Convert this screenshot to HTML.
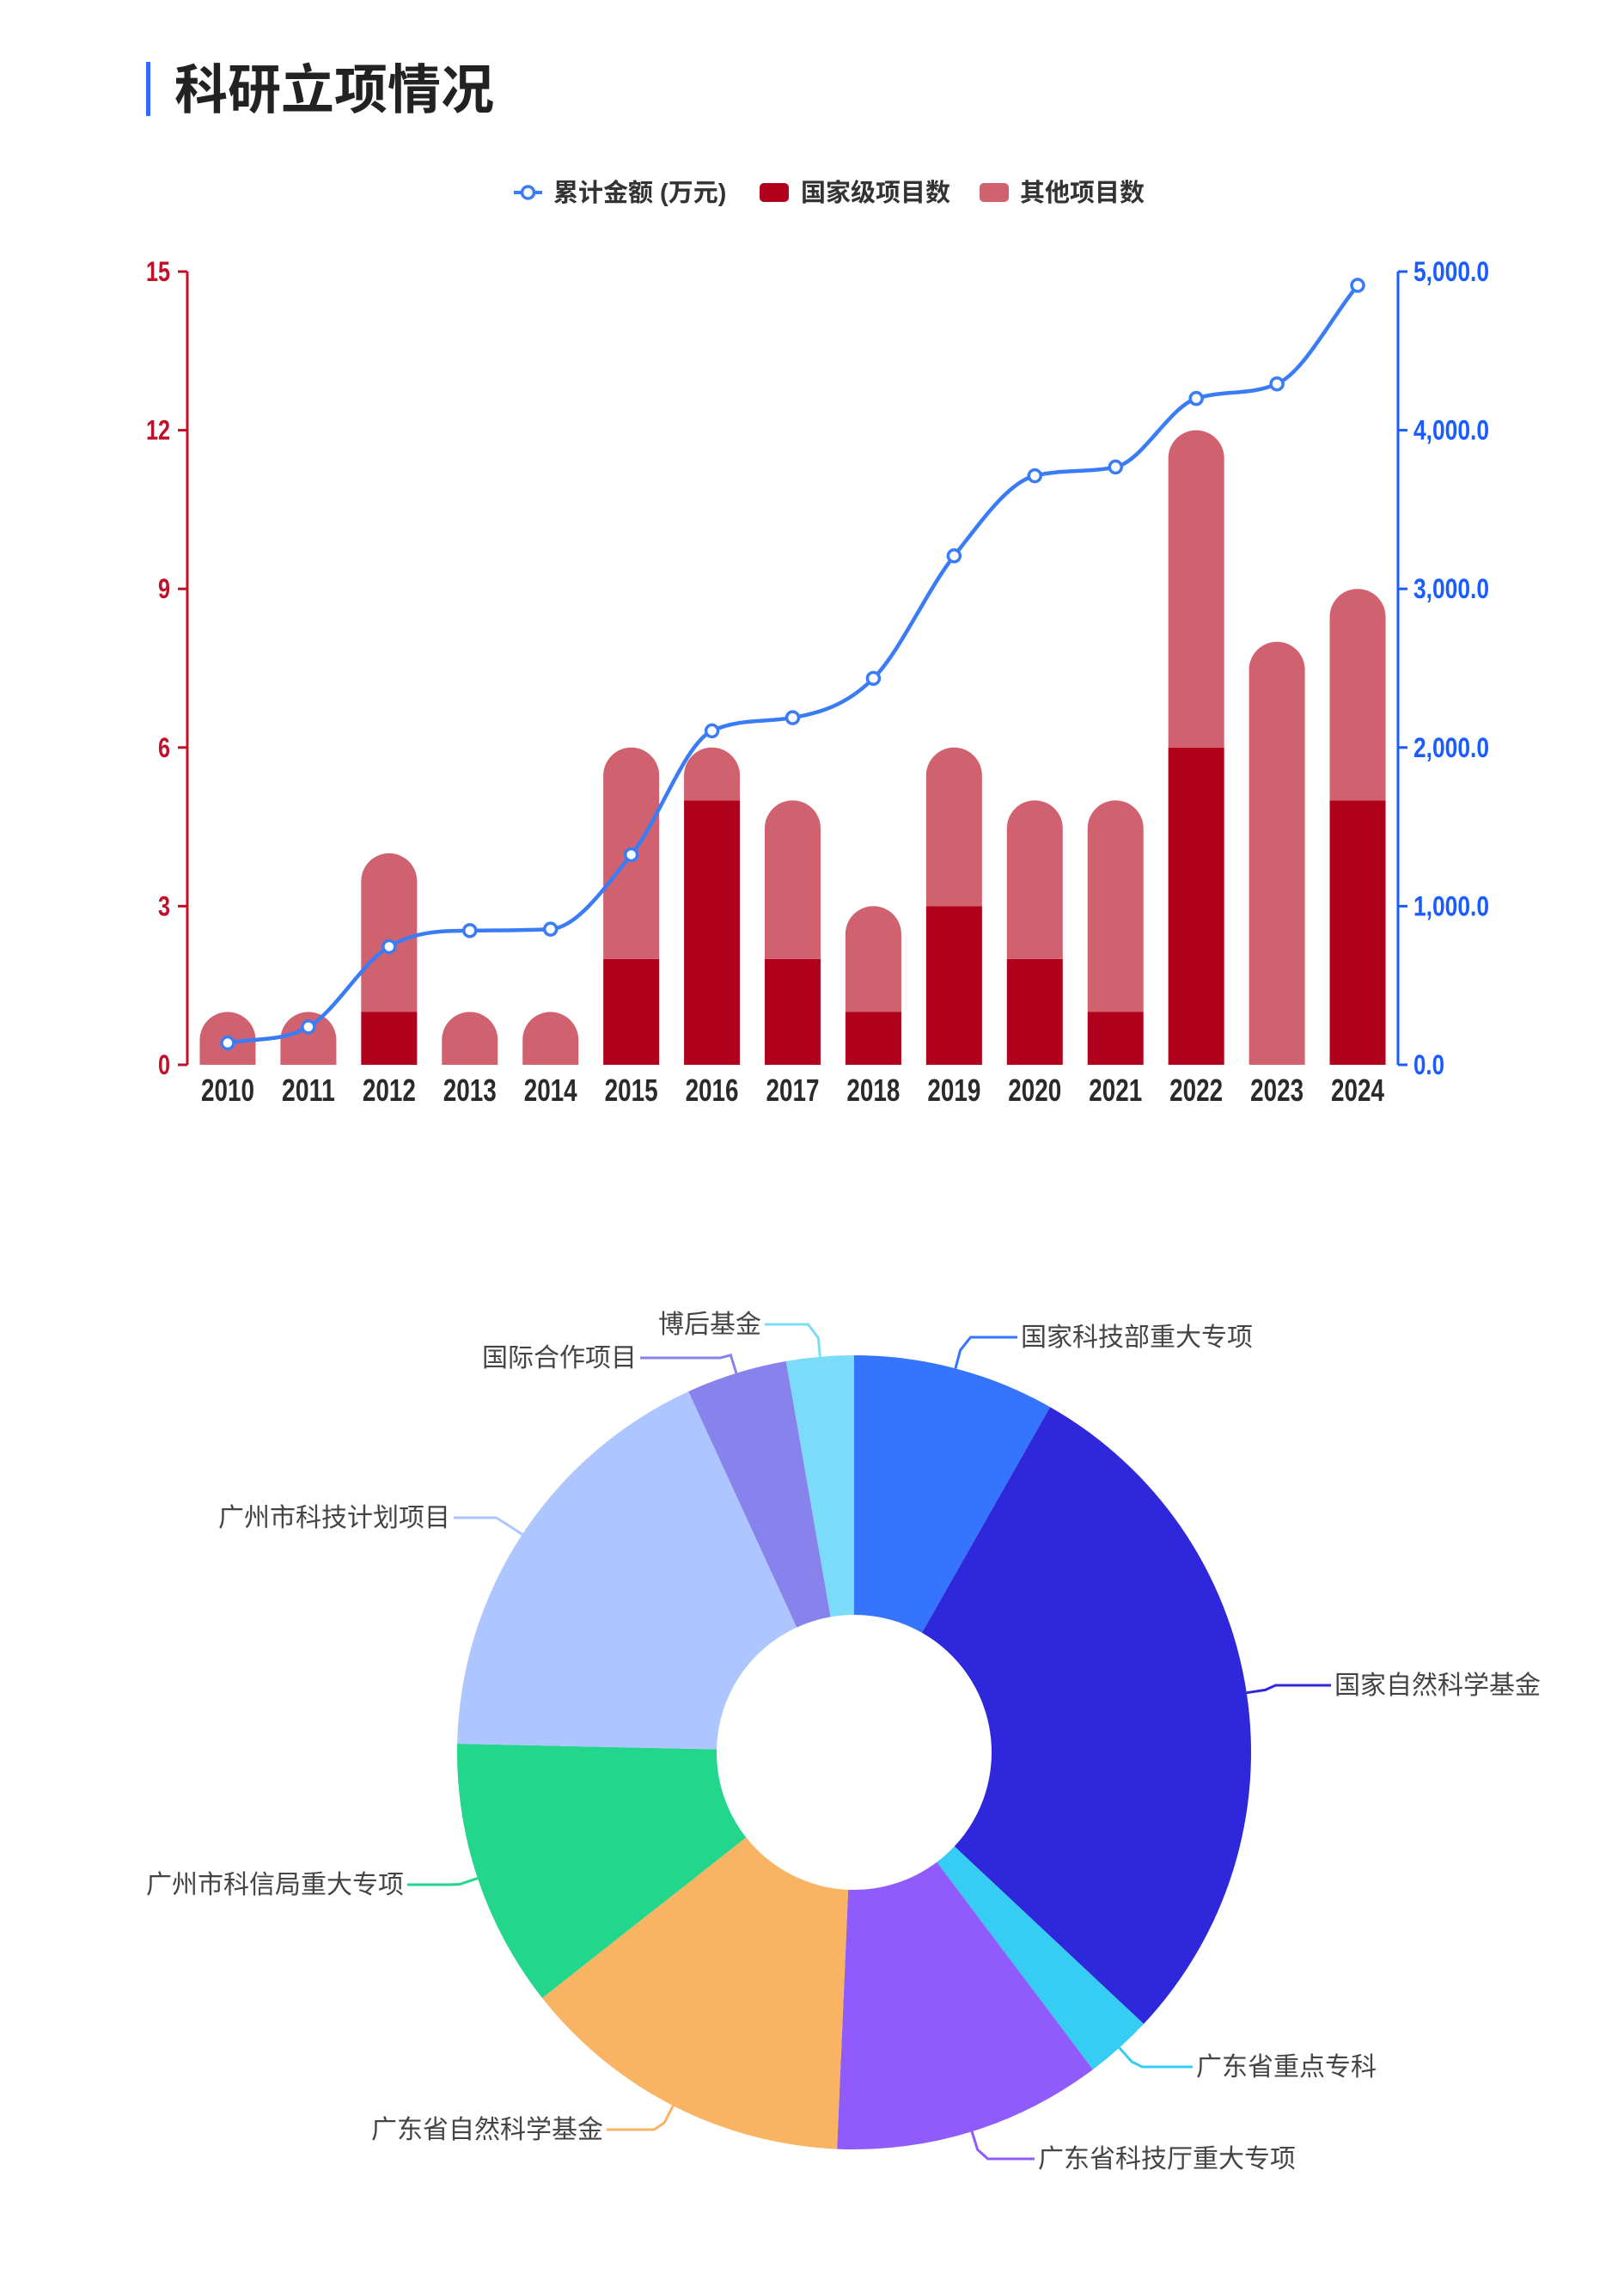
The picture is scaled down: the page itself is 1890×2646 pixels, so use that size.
<!DOCTYPE html>
<html><head><meta charset="utf-8">
<style>
html,body{margin:0;padding:0;background:#fff;width:1890px;height:2646px;overflow:hidden;}
svg{display:block;}
.cn{font-family:"Liberation Sans","Noto Sans CJK SC",sans-serif;}
</style></head>
<body>
<svg id="svg" width="1890" height="2646" viewBox="0 0 1890 2646">
  <rect x="170" y="72" width="5" height="63" fill="#2f6bff"/>
  <text x="203" y="126" class="cn" font-size="62" font-weight="bold" fill="#222">科研立项情况</text>
  <g id="legend">
    <g>
      <line x1="598" y1="224" x2="631" y2="224" stroke="#3a7cf6" stroke-width="4"/>
      <circle cx="614.5" cy="224" r="7" fill="#fff" stroke="#3a7cf6" stroke-width="3.5"/>
      <text x="644" y="234" class="cn" font-size="29" font-weight="bold" fill="#333">累计金额 (万元)</text>
    </g>
    <g>
      <rect x="884" y="213" width="34" height="22" rx="5" fill="#b0001c"/>
      <text x="932" y="234" class="cn" font-size="29" font-weight="bold" fill="#333">国家级项目数</text>
    </g>
    <g>
      <rect x="1140" y="213" width="34" height="22" rx="5" fill="#d06270"/>
      <text x="1187" y="234" class="cn" font-size="29" font-weight="bold" fill="#333">其他项目数</text>
    </g>
  </g>
  <g id="chart"></g>
  <g id="pie"></g>
</svg>
<script>
const NS='http://www.w3.org/2000/svg';
const years=['2010','2011','2012','2013','2014','2015','2016','2017','2018','2019','2020','2021','2022','2023','2024'];
const nationalCounts=[0,0,1,0,0,2,5,2,1,3,2,1,6,0,5];
const otherCounts=[1,1,3,1,1,4,1,3,2,3,3,4,6,8,4];
const cumulativeAmount=[138,239,745,846,855,1324,2105,2188,2436,3208,3713,3768,4200,4292,4913];
const leftTicks=[0,3,6,9,12,15];
const rightTicks=[0,1000,2000,3000,4000,5000];
const rightTickLabels=['0.0','1,000.0','2,000.0','3,000.0','4,000.0','5,000.0'];

const pieLabels=['国家科技部重大专项','国家自然科学基金','广东省重点专科','广东省科技厅重大专项','广东省自然科学基金','广州市科信局重大专项','广州市科技计划项目','国际合作项目','博后基金'];
const pieValues=[3,10.5,1,4,5,4,6.5,1.5,1];

function el(tag,attrs,parent){const e=document.createElementNS(NS,tag);for(const k in attrs)e.setAttribute(k,attrs[k]);parent.appendChild(e);return e;}

const chart=document.getElementById('chart');
const X0=218,X1=1627,Y0=1239,Y1=316;
const band=(X1-X0)/years.length;
const xC=i=>X0+(i+0.5)*band;
const yL=v=>Y0-(v/15)*(Y0-Y1);
const yR=v=>Y0-(v/5000)*(Y0-Y1);
const BW=65;
const numFont='"Liberation Sans Narrow","Liberation Sans",sans-serif';

// axes
const la=el('line',{x1:X0,y1:Y1,x2:X0,y2:Y0,stroke:'#c0102a','stroke-width':3},chart);


const ra=el('line',{x1:X1,y1:Y1,x2:X1,y2:Y0,stroke:'#1a5cff','stroke-width':3},chart);


leftTicks.forEach(v=>{
  const y=yL(v);
  el('line',{x1:X0-11,y1:y,x2:X0,y2:y,stroke:'#c0102a','stroke-width':3},chart);
  const s=String(v);
  const t=el('text',{x:198,y:y+11,'text-anchor':'end','font-size':32,'font-weight':'bold',fill:'#c0102a','font-family':numFont,textLength:s.length*14,lengthAdjust:'spacingAndGlyphs'},chart);
  t.textContent=s;
  
  
});
rightTicks.forEach((v,i)=>{
  const y=yR(v);
  el('line',{x1:X1,y1:y,x2:X1+11,y2:y,stroke:'#1a5cff','stroke-width':3},chart);
  const s=rightTickLabels[i];
  const w=s.length===3?36:88;
  const t=el('text',{x:1645,y:y+11,'font-size':32,'font-weight':'bold',fill:'#1a5cff','font-family':numFont,textLength:w,lengthAdjust:'spacingAndGlyphs'},chart);
  t.textContent=s;
  
  
});

function topRounded(x,y,w,h,r){
  r=Math.min(r,h);
  return `M${x},${y+h}L${x},${y+r}A${r},${r} 0 0 1 ${x+r},${y}`+`L${x+w-r},${y}A${r},${r} 0 0 1 ${x+w},${y+r}L${x+w},${y+h}Z`;
}
years.forEach((yr,i)=>{
  const x=xC(i)-BW/2;
  const n=nationalCounts[i],o=otherCounts[i];
  if(n>0){
    const yt=yL(n),h=Y0-yt;
    let b;
    if(o>0) b=el('rect',{x:x,y:yt,width:BW,height:h,fill:'#b0001c'},chart);
    else b=el('path',{d:topRounded(x,yt,BW,h,BW/2),fill:'#b0001c'},chart);
    
    
  }
  if(o>0){
    const yb=yL(n),yt=yL(n+o);
    const b=el('path',{d:topRounded(x,yt,BW,yb-yt,BW/2),fill:'#d06270'},chart);
    
    
  }
  const t=el('text',{x:xC(i),y:1281,'text-anchor':'middle','font-size':36,'font-weight':'bold',fill:'#2a2a2a','font-family':numFont,textLength:62,lengthAdjust:'spacingAndGlyphs'},chart);
  t.textContent=yr;
  
  
});

// smooth line (monotone cubic)
const pts=cumulativeAmount.map((v,i)=>[xC(i),yR(v)]);
function monotone(p){
  const n=p.length,d=[],m=[];
  for(let i=0;i<n-1;i++)d.push((p[i+1][1]-p[i][1])/(p[i+1][0]-p[i][0]));
  m[0]=d[0];m[n-1]=d[n-2];
  for(let i=1;i<n-1;i++){m[i]=(d[i-1]*d[i]<=0)?0:(d[i-1]+d[i])/2;}
  for(let i=0;i<n-1;i++){if(d[i]===0){m[i]=m[i+1]=0;continue;}const a=m[i]/d[i],b=m[i+1]/d[i],s=a*a+b*b;if(s>9){const t=3/Math.sqrt(s);m[i]=t*a*d[i];m[i+1]=t*b*d[i];}}
  let s=`M${p[0][0]},${p[0][1]}`;
  for(let i=0;i<n-1;i++){const h=(p[i+1][0]-p[i][0])/3;s+=`C${p[i][0]+h},${p[i][1]+m[i]*h} ${p[i+1][0]-h},${p[i+1][1]-m[i+1]*h} ${p[i+1][0]},${p[i+1][1]}`;}
  return s;
}
const ln=el('path',{d:monotone(pts),fill:'none',stroke:'#3a7cf6','stroke-width':4.5},chart);


pts.forEach((p,i)=>{
  const c=el('circle',{cx:p[0],cy:p[1],r:7,fill:'#fff',stroke:'#3a7cf6','stroke-width':3.5},chart);
  
  
});

// donut
const pie=document.getElementById('pie');
const colors=['#3574fc','#2f27dc','#35cdf4','#905bfc','#f8b363','#22d68b','#adc6ff','#8782ec','#7adcf9'];
const CX=994,CY=2039,RO=462,RI=160;
const total=pieValues.reduce((a,b)=>a+b,0);
const pt=(r,a)=>[CX+r*Math.sin(a),CY-r*Math.cos(a)];
// label geometry: [elbow-x, elbow-y, text-anchor-x, text-y, anchor]
const labelPos=[
 [1134,1556,1188,'start'],[1550,1961,1553,'start'],[1360,2405,1392,'start'],[1152,2512,1208,'start'],
 [760,2478,702,'end'],[524,2193,470,'end'],[583,1766,524,'end'],[793,1580,741,'end'],[945,1541,886,'end']];
let acc=0;
pieValues.forEach((v,i)=>{
  const a0=acc/total*2*Math.PI;acc+=v;const a1=acc/total*2*Math.PI;
  const large=(a1-a0)>Math.PI?1:0;
  const [x0,y0]=pt(RO,a0),[x1,y1]=pt(RO,a1),[x2,y2]=pt(RI,a1),[x3,y3]=pt(RI,a0);
  const s=el('path',{d:`M${x0},${y0}A${RO},${RO} 0 ${large} 1 ${x1},${y1}L${x2},${y2}A${RI},${RI} 0 ${large} 0 ${x3},${y3}Z`,fill:colors[i]},pie);
  
  
  const am=(a0+a1)/2;
  const [sx,sy]=pt(RO,am);
  const [ex,ey,tx,anchor]=labelPos[i];
  const ly=labelPos[i][1];
  const [ox,oy]=pt(RO+22,am);
  const endX=anchor==='start'?tx-4:tx+4;
  const l=el('polyline',{points:`${sx},${sy} ${ox},${oy} ${ox+(anchor==='start'?12:-12)},${ly} ${endX},${ly}`,fill:'none',stroke:colors[i],'stroke-width':3},pie);
  
  
  const t=el('text',{x:tx,y:ly+10,'text-anchor':anchor,'font-size':30,fill:'#444','font-family':'"Liberation Sans","Noto Sans CJK SC",sans-serif'},pie);
  t.textContent=pieLabels[i];
  
  
});
</script>
</body></html>
